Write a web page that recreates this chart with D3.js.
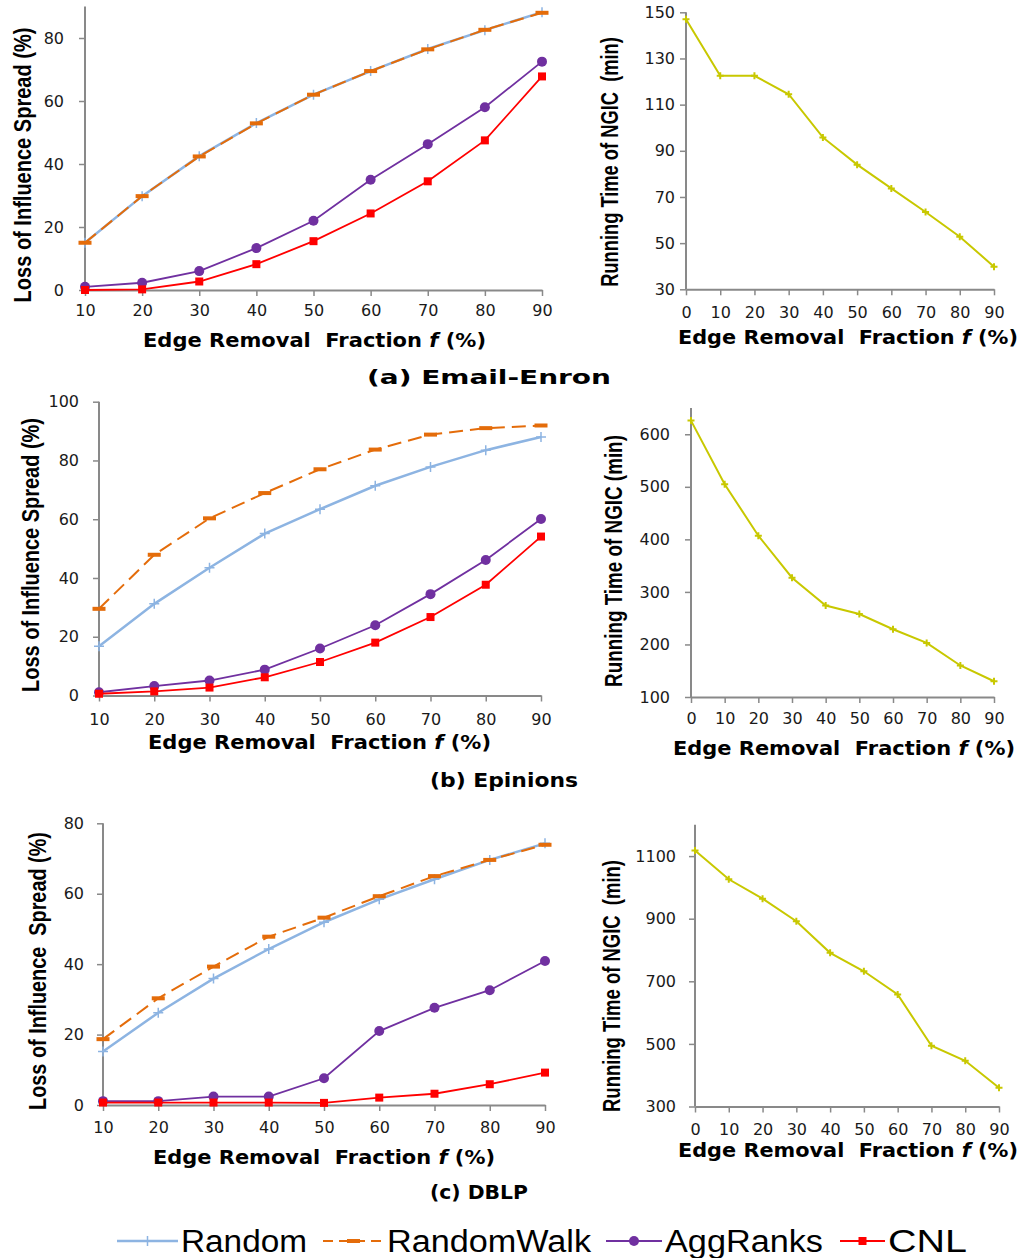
<!DOCTYPE html>
<html>
<head>
<meta charset="utf-8">
<script src="https://cdn.jsdelivr.net/npm/d3@7"></script>
<style>
  body { margin: 0; background: #fff; }
  svg { display: block; }
  text { white-space: pre; }
</style>
</head>
<body>
<div id="chart"></div>
<script>
// x categories (edge removal fraction, %)
const fracLoss = [10, 20, 30, 40, 50, 60, 70, 80, 90];
const fracTime = [0, 10, 20, 30, 40, 50, 60, 70, 80, 90];

// (a) Email-Enron
const enronRandom     = [15, 29.8, 42.5, 53, 62, 69.5, 76.5, 82.5, 88.2];
const enronRandomWalk = [15, 29.8, 42.4, 52.9, 62, 69.5, 76.4, 82.6, 88];
const enronAggRanks   = [1, 2.3, 6, 13.3, 22, 35, 46.3, 58, 72.5];
const enronCNL        = [0, 0.2, 2.7, 8.2, 15.5, 24.3, 34.5, 47.5, 67.8];
const enronTime       = [147, 122.5, 122.5, 114.5, 95.8, 84, 73.7, 63.5, 52.8, 39.8];

// (b) Epinions
const epinionsRandom     = [16.8, 31.2, 43.5, 55.1, 63.4, 71.4, 77.8, 83.5, 88];
const epinionsRandomWalk = [29.5, 47.9, 60.3, 68.9, 77, 83.7, 88.8, 91, 91.9];
const epinionsAggRanks   = [1.1, 3.2, 5.1, 8.8, 16, 23.9, 34.5, 46.1, 60.1];
const epinionsCNL        = [0.6, 1.4, 2.7, 6.2, 11.4, 18, 26.7, 37.7, 54.1];
const epinionsTime       = [626, 505, 407, 327, 274, 258, 229, 203, 160, 130];

// (c) DBLP
const dblpRandom     = [15.2, 26.2, 35.9, 44.3, 51.9, 58.4, 64.1, 69.6, 74.3];
const dblpRandomWalk = [18.7, 30.3, 39.3, 47.8, 53.2, 59.3, 65, 69.6, 73.9];
const dblpAggRanks   = [1.1, 1.1, 2.4, 2.4, 7.6, 21, 27.6, 32.6, 40.9];
const dblpCNL        = [0.7, 0.7, 0.7, 0.7, 0.6, 2.1, 3.2, 5.9, 9.2];
const dblpTime       = [1118, 1026, 964, 892, 791, 732, 658, 494, 446, 360];

// y tick labels
const lossTicksA = [0, 20, 40, 60, 80];
const lossTicksB = [0, 20, 40, 60, 80, 100];
const lossTicksC = [0, 20, 40, 60, 80];
const timeTicksA = [30, 50, 70, 90, 110, 130, 150];
const timeTicksB = [100, 200, 300, 400, 500, 600];
const timeTicksC = [300, 500, 700, 900, 1100];

const seriesNames = ["Random", "RandomWalk", "AggRanks", "CNL"];
const captions = ["(a) Email-Enron", "(b) Epinions", "(c) DBLP"];

const colors = {
    Random: "#8db4e2",
    RandomWalk: "#e46c0a",
    AggRanks: "#7030a0",
    CNL: "#ff0000",
    NGIC: "#c8c800"
};
const axisColor = "#898989";

const W = 1026, H = 1258;
const svg = d3.select("#chart").append("svg")
    .attr("width", W)
    .attr("height", H);

// layout per panel
const lossPanels = [
    {x: [85, 542], y: [290, 6.5], dom: [0, 90], ticks: lossTicksA, ypad: 15, xpad: 9,
     data: [enronRandom, enronRandomWalk, enronAggRanks, enronCNL],
     ytitle: "Loss of Influence Spread (%)", yt: [23, 165, 275],
     xt: [143, 340, 343]},
    {x: [99, 541], y: [695.5, 401.7], dom: [0, 100], ticks: lossTicksB, ypad: 14, xpad: 12,
     data: [epinionsRandom, epinionsRandomWalk, epinionsAggRanks, epinionsCNL],
     ytitle: "Loss of Influence Spread (%)", yt: [31, 555, 274],
     xt: [148, 742, 343]},
    {x: [103, 545], y: [1105, 823.3], dom: [0, 80], ticks: lossTicksC, ypad: 13, xpad: 11,
     data: [dblpRandom, dblpRandomWalk, dblpAggRanks, dblpCNL],
     ytitle: "Loss of Influence  Spread (%)", yt: [37.5, 971, 278],
     xt: [153, 1157, 342]}
];

const timePanels = [
    {x: [686, 994], y: [289.3, 12.3], dom: [30, 150], ticks: timeTicksA, ypad: 5, xpad: 11,
     data: enronTime, ytitle: "Running Time of NGIC  (min)", yt: [610, 162, 250],
     xt: [678, 337, 340]},
    {x: [691, 994], y: [697, 408], dom: [100, 650], ticks: timeTicksB, ypad: 15, xpad: 10,
     data: epinionsTime, ytitle: "Running Time of NGIC (min)", yt: [614, 561, 252],
     xt: [673, 748, 342]},
    {x: [695, 999], y: [1106.5, 824.8], dom: [300, 1200], ticks: timeTicksC, ypad: 13, xpad: 11,
     data: dblpTime, ytitle: "Running Time of NGIC  (min)", yt: [612, 986, 252],
     xt: [678, 1150, 340]}
];

const captionPos = [[367, 384, 244], [430, 787, 148], [430, 1199, 98]];

function drawAxes(g, p, xScale, yScale, xTicks) {
    let yAxis = g.append("g")
        .attr("transform", `translate(${p.x[0]},0)`)
        .call(d3.axisLeft(yScale).tickValues(p.ticks).tickSize(6).tickSizeOuter(0)
            .tickPadding(p.ypad).tickFormat(d3.format("d")));
    let xAxis = g.append("g")
        .attr("transform", `translate(0,${p.y[0]})`)
        .call(d3.axisBottom(xScale).tickValues(xTicks).tickSize(6).tickSizeOuter(0)
            .tickPadding(p.xpad).tickFormat(d3.format("d")));
    for (let a of [yAxis, xAxis]) {
        a.select(".domain").attr("stroke", axisColor).attr("stroke-width", 2);
        a.selectAll(".tick line").attr("stroke", axisColor).attr("stroke-width", 1.5);
        a.selectAll(".tick text")
            .attr("fill", "#1a1a1a")
            .style("font-family", "DejaVu Sans, Verdana, sans-serif")
            .style("font-size", "16px");
    }
    yAxis.select(".domain").attr("d", `M0,${p.y[0]}V${p.y[1]}`);

    // y title: squeeze along its length with a scale so the box stays true
    let yt = g.append("text")
        .attr("text-anchor", "middle")
        .attr("dy", "0.35em")
        .style("font-family", "Liberation Sans, Arial, sans-serif")
        .style("font-weight", "bold")
        .style("font-size", "24px")
        .text(p.ytitle);
    let natural = yt.node().getComputedTextLength();
    yt.attr("transform", `translate(${p.yt[0]},${p.yt[1]}) rotate(-90) scale(${p.yt[2] / natural},1)`);

    let xt = g.append("text")
        .attr("x", p.xt[0])
        .attr("y", p.xt[1])
        .attr("dy", "0.36em")
        .attr("textLength", p.xt[2])
        .attr("lengthAdjust", "spacingAndGlyphs")
        .style("font-family", "DejaVu Sans, Verdana, sans-serif")
        .style("font-weight", "bold")
        .style("font-size", "19px");
    xt.append("tspan").text("Edge Removal  Fraction ");
    xt.append("tspan").style("font-style", "italic").text("f");
    xt.append("tspan").text(" (%)");
}

function drawMarker(g, name, cx, cy) {
    let c = colors[name];
    if (name == "Random") {
        g.append("path")
            .attr("d", `M${cx - 5},${cy}H${cx + 5}M${cx},${cy - 5}V${cy + 5}`)
            .attr("stroke", c).attr("stroke-width", 1.5).attr("fill", "none");
    } else if (name == "RandomWalk") {
        g.append("rect")
            .attr("x", cx - 6.5).attr("y", cy - 2)
            .attr("width", 13).attr("height", 4)
            .attr("fill", c);
    } else if (name == "AggRanks") {
        g.append("circle")
            .attr("cx", cx).attr("cy", cy).attr("r", 5)
            .attr("fill", c);
    } else if (name == "CNL") {
        g.append("rect")
            .attr("x", cx - 4).attr("y", cy - 4)
            .attr("width", 8).attr("height", 8)
            .attr("fill", c);
    } else {
        g.append("path")
            .attr("d", `M${cx - 3.5},${cy}H${cx + 3.5}M${cx},${cy - 3.5}V${cy + 3.5}`)
            .attr("stroke", c).attr("stroke-width", 2).attr("fill", "none");
    }
}

const lineStyle = {
    Random: {w: 2.5, dash: null},
    RandomWalk: {w: 2, dash: "14,7"},
    AggRanks: {w: 1.8, dash: null},
    CNL: {w: 1.8, dash: null}
};

// loss panels
lossPanels.forEach((p, pi) => {
    let g = svg.append("g").attr("class", "loss-panel");
    let x = d3.scaleLinear().domain([10, 90]).range(p.x);
    let y = d3.scaleLinear().domain(p.dom).range(p.y);
    drawAxes(g, p, x, y, fracLoss);

    seriesNames.forEach((name, si) => {
        let vals = p.data[si];
        let pts = fracLoss.map((f, i) => [x(f), y(vals[i])]);
        let st = lineStyle[name];
        g.append("path")
            .attr("d", d3.line()(pts))
            .attr("fill", "none")
            .attr("stroke", colors[name])
            .attr("stroke-width", st.w)
            .attr("stroke-dasharray", st.dash);
        for (let pt of pts) drawMarker(g, name, pt[0], pt[1]);
    });
});

// running time panels
timePanels.forEach((p) => {
    let g = svg.append("g").attr("class", "time-panel");
    let x = d3.scaleLinear().domain([0, 90]).range(p.x);
    let y = d3.scaleLinear().domain(p.dom).range(p.y);
    drawAxes(g, p, x, y, fracTime);

    let pts = fracTime.map((f, i) => [x(f), y(p.data[i])]);
    g.append("path")
        .attr("d", d3.line()(pts))
        .attr("fill", "none")
        .attr("stroke", colors.NGIC)
        .attr("stroke-width", 2);
    for (let pt of pts) drawMarker(g, "NGIC", pt[0], pt[1]);
});

// captions
captions.forEach((c, i) => {
    svg.append("text")
        .attr("x", captionPos[i][0])
        .attr("y", captionPos[i][1])
        .attr("textLength", captionPos[i][2])
        .attr("lengthAdjust", "spacingAndGlyphs")
        .style("font-family", "DejaVu Sans, Verdana, sans-serif")
        .style("font-weight", "bold")
        .style("font-size", "20px")
        .text(c);
});

// legend
const legendPos = [[117, 178, 126], [323, 384, 204], [606, 662, 158], [840, 885, 79]];
let legend = svg.append("g").attr("class", "legend");
seriesNames.forEach((name, i) => {
    let [l0, l1, tw] = legendPos[i];
    let ly = 1241;
    let st = lineStyle[name];
    legend.append("line")
        .attr("x1", l0).attr("x2", l1)
        .attr("y1", ly).attr("y2", ly)
        .attr("stroke", colors[name])
        .attr("stroke-width", st.w)
        .attr("stroke-dasharray", name == "RandomWalk" ? "10,6" : null);
    drawMarker(legend, name, (l0 + l1) / 2, ly);
    legend.append("text")
        .attr("x", l1 + 3)
        .attr("y", 1252)
        .attr("textLength", tw)
        .attr("lengthAdjust", "spacingAndGlyphs")
        .style("font-family", "Liberation Sans, Arial, sans-serif")
        .style("font-size", "31px")
        .text(name);
});
</script>
</body>
</html>
